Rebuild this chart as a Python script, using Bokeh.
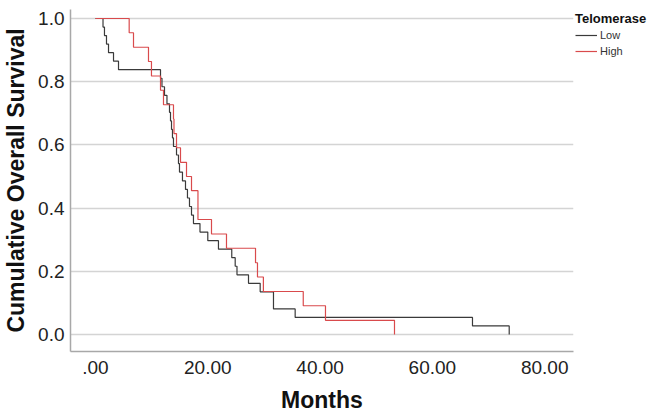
from bokeh.plotting import figure
from bokeh.models import Range1d, FixedTicker, Legend, LegendItem
from bokeh.embed import file_html
from bokeh.resources import INLINE

# ---- data ----
low_months = [0, 1.34, 1.60, 1.96, 2.32, 3.21, 4.10, 11.58, 11.84, 12.29, 12.73,
              13.18, 13.36, 13.54, 13.71, 13.89, 14.43, 14.78, 14.96, 15.49, 16.03,
              16.38, 16.74, 17.10, 17.45, 18.61, 20.0, 21.9, 24.27, 24.88, 25.2,
              27.25, 29.33, 31.7, 35.56, 67.14, 73.68]
low_surv = [1.0, 0.973, 0.946, 0.919, 0.892, 0.865, 0.838, 0.811, 0.784, 0.757, 0.730,
            0.703, 0.676, 0.649, 0.622, 0.595, 0.568, 0.541, 0.514, 0.486, 0.459,
            0.432, 0.405, 0.378, 0.351, 0.324, 0.297, 0.270, 0.243, 0.216, 0.189,
            0.162, 0.135, 0.081, 0.054, 0.027, 0.0]

high_months = [0, 6.0, 6.77, 9.44, 9.97, 11.58, 12.11, 13.89, 13.98, 14.43, 15.14,
               16.21, 17.10, 18.25, 20.66, 23.33, 28.5, 28.85, 29.9, 37.0, 40.96, 53.25]
high_surv = [1.0, 0.955, 0.909, 0.864, 0.818, 0.773, 0.727, 0.682, 0.636, 0.591, 0.545,
             0.5, 0.455, 0.364, 0.318, 0.273, 0.227, 0.182, 0.136, 0.091, 0.045, 0.0]

x_ticks = [0, 20, 40, 60, 80]
x_tick_labels = [".00", "20.00", "40.00", "60.00", "80.00"]
y_ticks = [0.0, 0.2, 0.4, 0.6, 0.8, 1.0]
y_tick_labels = ["0.0", "0.2", "0.4", "0.6", "0.8", "1.0"]

legend_title = "Telomerase"
group_names = ["Low", "High"]
group_colors = ["#3a3a3a", "#d94a4c"]

FONT = "Liberation Sans"

p = figure(frame_width=503, frame_height=342,
           x_range=Range1d(-4.45, 85.13), y_range=Range1d(-0.0538, 1.0285),
           output_backend="svg", toolbar_location=None,
           min_border_left=64, min_border_right=78, min_border_top=9, min_border_bottom=58)

p.outline_line_color = None
p.background_fill_color = "white"
p.border_fill_color = "white"

r_low = p.step(low_months, low_surv, mode="after", line_color=group_colors[0], line_width=1.2)
r_high = p.step(high_months, high_surv, mode="after", line_color=group_colors[1], line_width=1.2)

# axes
p.xaxis.ticker = FixedTicker(ticks=x_ticks)
p.xaxis.major_label_overrides = {t: l for t, l in zip(x_ticks, x_tick_labels)}
p.yaxis.ticker = FixedTicker(ticks=y_ticks)
p.yaxis.major_label_overrides = {t: l for t, l in zip(y_ticks, y_tick_labels)}

for ax in (p.xaxis, p.yaxis):
    ax.axis_line_color = "#a8a8a8"
    ax.axis_line_width = 1.5
    ax.major_tick_line_color = None
    ax.minor_tick_line_color = None
    ax.major_tick_out = 0
    ax.major_tick_in = 0
    ax.minor_tick_out = 0
    ax.minor_tick_in = 0
    ax.major_label_text_font = FONT
    ax.major_label_text_font_size = "19px"
    ax.major_label_text_color = "#222222"
    ax.axis_label_text_font = FONT
    ax.axis_label_text_font_style = "bold"
    ax.axis_label_text_color = "#111111"

p.xaxis.axis_label = "Months"
p.xaxis.axis_label_text_font_size = "23px"
p.xaxis.major_label_standoff = 9
p.xaxis.axis_label_standoff = 10
p.yaxis.axis_label = "Cumulative Overall Survival"
p.yaxis.axis_label_text_font_size = "23px"
p.yaxis.major_label_standoff = 6
p.yaxis.axis_label_standoff = 6

p.xgrid.grid_line_color = None
p.ygrid.ticker = FixedTicker(ticks=y_ticks)
p.ygrid.grid_line_color = "#d4d4d4"
p.ygrid.grid_line_width = 1.3

# legend in the right-hand panel
legend = Legend(items=[LegendItem(label=group_names[0], renderers=[r_low]),
                       LegendItem(label=group_names[1], renderers=[r_high])],
                title=legend_title, title_text_font=FONT, title_text_font_style="bold",
                title_text_font_size="13px", title_text_color="#111111", title_standoff=2,
                location="top_left", padding=0, margin=2, spacing=2,
                glyph_width=22, glyph_height=14, label_height=14, label_standoff=3,
                label_text_font=FONT, label_text_font_size="11px",
                label_text_color="#333333",
                border_line_color=None, background_fill_alpha=0)
p.add_layout(legend, "right")

open("out.html", "w").write(file_html(p, INLINE))
